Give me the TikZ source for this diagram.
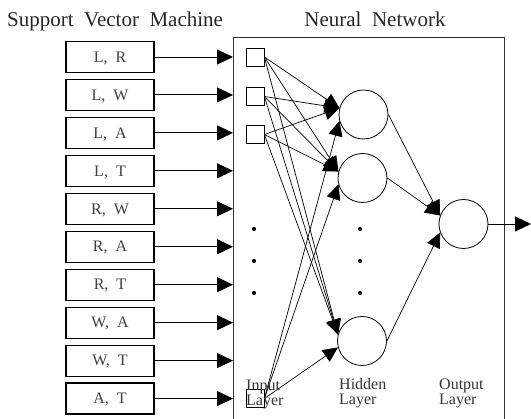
\documentclass[tikz,border=0pt]{standalone}
\usepackage{fontspec}
\setmainfont[WordSpace=2]{Liberation Serif}
\usetikzlibrary{
	arrows.meta,
	positioning,
}
\tikzset{
	pair node/.style={
		draw,
		rectangle,
		minimum width=88pt,
		minimum height=31pt,
		inner sep=0pt,
		text height=10.5pt,
		text depth=0pt,
		line width=1.1pt,
		font=\fontsize{16}{16}\selectfont,
		text=black!75,
	},
	input node/.style={draw, rectangle, minimum size=18pt, inner sep=0pt, line width=0.8pt},
	neuron/.style={draw, circle, minimum size=49pt, inner sep=0pt, line width=0.8pt},
	title node/.style={inner sep=0pt, font=\fontsize{21}{21}\selectfont, text=black!85},
	layer label/.style={anchor=north west, inner sep=0pt, align=left,
		font=\fontsize{16}{15}\selectfont, text=black!80},
	big arrow/.style={line width=0.9pt, -{Triangle[length=16pt,width=15pt]}},
	net arrow/.style={line width=0.7pt, -{Triangle[length=15pt,width=14pt]}},
}

\begin{document}
\begin{tikzpicture}[x=1pt,y=-1pt]
\useasboundingbox (0,0) rectangle (531,419);

\node[title node, anchor=base west] (svm) at (7,27) {Support Vector Machine};
\node[title node, anchor=base] (nnt) at (375,27) {Neural Network};

\node[draw, line width=1.3pt, draw=black!80, anchor=north west,
	minimum width=271pt, minimum height=400pt, inner sep=0pt] (nn) at (233,37) {};

\foreach[count=\i] \txt in {
	{L, R},{L, W},{L, A},{L, T}
	,{R, W},{R, A},{R, T}
	,{W, A},{W, T}
	,{A, T}
}{
	\node[pair node] (p\i) at (110,{57+37.95*(\i-1)}) {\txt};
	\draw[big arrow] (p\i.east) -- (p\i.east -| nn.west);
}

\foreach[count=\i] \y in {57,96.5,134.5,398.5}{
	\node[input node] (i\i) at (255,\y) {};
}

\node[neuron] (h1) at (363.5,114.5) {};
\node[neuron] (h2) at (362.5,178) {};
\node[neuron] (h3) at (362,341) {};
\node[neuron] (o) at (463.5,224) {};
\coordinate (out) at (531,224);

\foreach \x in {254,360}{
	\foreach \y in {229,261,293}{
		\fill (\x,\y) circle (2.1pt);
	}
}

\foreach \u in {1,2,3}{
	\foreach \v in {1,2,3}{
		\draw[net arrow] (i\u.east) -- (h\v.165);
	}
}
\foreach \v in {1,2,3}{
	\draw[net arrow] (i4.east) -- (h\v.195);
}

\draw[net arrow] (h1.east) -- (o.160);
\draw[net arrow] (h2.east) -- (o.160);
\draw[net arrow] (h3.east) -- (o.200);
\draw[big arrow] (o.east) -- (out);

\node[layer label] (inl) at (246,379.5) {Input\\Layer};
\node[layer label] (hidl) at (339,378) {Hidden\\Layer};
\node[layer label] (outl) at (439,379) {Output\\Layer};

\end{tikzpicture}
\end{document}
